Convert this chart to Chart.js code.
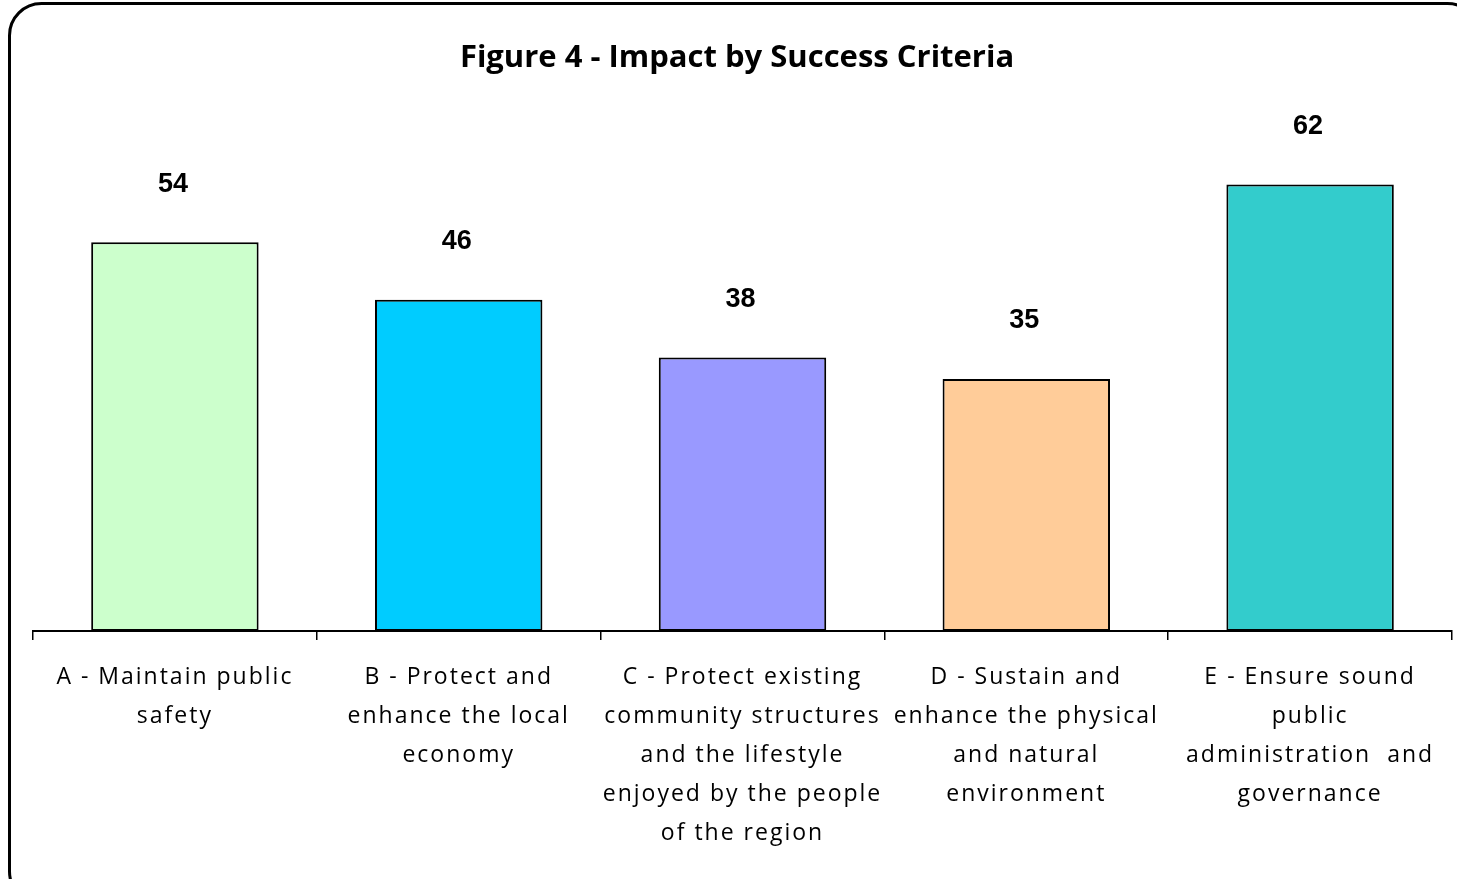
<!DOCTYPE html>
<html>
<head>
<meta charset="utf-8">
<script src="https://cdn.jsdelivr.net/npm/chart.js@4"></script>
<style>
  html, body { margin: 0; padding: 0; background: #fff; }
  #wrap { width: 1457px; height: 879px; }
</style>
</head>
<body>
<div id="wrap"><canvas id="myChart"></canvas></div>
<script>
var categories = [
    ["A - Maintain public", "safety"],
    ["B - Protect and", "enhance the local", "economy"],
    ["C - Protect existing", "community structures", "and the lifestyle", "enjoyed by the people", "of the region"],
    ["D - Sustain and", "enhance the physical", "and natural", "environment"],
    ["E - Ensure sound", "public", "administration  and", "governance"]
];
var impactValues = [54, 46, 38, 35, 62];
var barColors = ['#CCFFCC', '#00CCFF', '#9999FF', '#FFCC99', '#33CCCC'];
var chartTitle = 'Figure 4 - Impact by Success Criteria';

// frame + title + value labels
var extras = {
    id: 'extras',
    beforeDraw: function(chart) {
        var c = chart.ctx;
        c.save();
        c.fillStyle = '#fff';
        c.fillRect(0, 0, chart.width, chart.height);
        c.beginPath();
        c.roundRect(9.5, 3.5, 1470, 900, 32);
        c.lineWidth = 3;
        c.strokeStyle = '#000';
        c.stroke();
        c.restore();
        // category labels in the original are spaced out a bit
        c.letterSpacing = '2px';
    },
    afterDatasetsDraw: function(chart) {
        var c = chart.ctx;
        c.letterSpacing = '0px';
        c.save();
        c.fillStyle = '#000';
        c.textAlign = 'center';
        c.textBaseline = 'middle';
        c.font = 'bold 31px "Open Sans"';
        c.fillText(chartTitle, 737, 58);
        c.font = 'bold 27px "Liberation Sans"';
        chart.getDatasetMeta(0).data.forEach(function(bar, i) {
            c.fillText(impactValues[i], bar.x - 2, bar.y - 58);
        });
        c.restore();
    }
};

var ctx = document.getElementById("myChart").getContext('2d');
var myChart = new Chart(ctx, {
    type: 'bar',
    data: {
        labels: categories,
        datasets: [{
            data: impactValues,
            backgroundColor: barColors,
            borderColor: '#000',
            borderWidth: 2,
            borderSkipped: false,
            barPercentage: 0.59,
            categoryPercentage: 1
        }]
    },
    options: {
        responsive: true,
        maintainAspectRatio: false,
        animation: false,
        layout: { padding: { top: 127, left: 33, right: 5, bottom: 0 } },
        plugins: {
            legend: { display: false },
            tooltip: { enabled: false },
            title: { display: false }
        },
        scales: {
            x: {
                afterFit: function(s) { s.height = 248; },
                grid: {
                    display: true,
                    drawOnChartArea: false,
                    drawTicks: true,
                    tickLength: 9,
                    color: '#000',
                    lineWidth: 1.5
                },
                border: { display: true, color: '#000', width: 2 },
                ticks: {
                    color: '#000',
                    padding: 18,
                    maxRotation: 0,
                    autoSkip: false,
                    font: { family: '"Open Sans"', size: 23, lineHeight: 1.7 }
                }
            },
            y: {
                display: false,
                min: 0,
                max: 70
            }
        }
    },
    plugins: [extras]
});
</script>
</body>
</html>
